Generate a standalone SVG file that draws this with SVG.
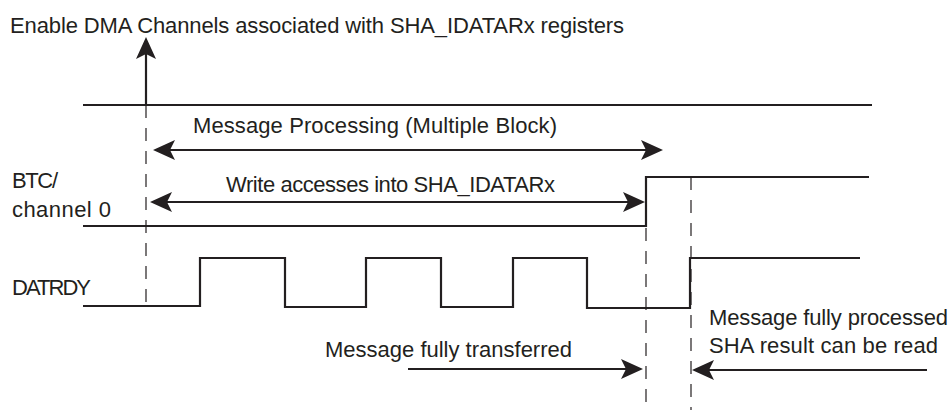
<svg xmlns="http://www.w3.org/2000/svg" width="951" height="413" viewBox="0 0 951 413">
<style>
text{font-family:"Liberation Sans",Arial,sans-serif;font-size:22px;fill:#231f20}
.sig{fill:none;stroke:#231f20;stroke-width:2.2;stroke-linejoin:miter}
.dash{fill:none;stroke:#231f20;stroke-width:1.2;stroke-dasharray:13 10}
.arr{fill:none;stroke:#231f20;stroke-width:2.2}
</style>
<defs>
<marker id="ah" viewBox="-11 -11 24 22" refX="0" refY="0" markerWidth="24" markerHeight="22" orient="auto-start-reverse" markerUnits="userSpaceOnUse">
<path d="M12,0 L-10,-10 L-5,0 L-10,10 Z" fill="#231f20"/>
</marker>
</defs>
<g id="title"><text x="10" y="33" textLength="614" lengthAdjust="spacing">Enable DMA Channels associated with SHA_IDATARx registers</text></g>
<g id="labels">
<text x="12" y="188" textLength="46" lengthAdjust="spacing">BTC/</text>
<text x="12" y="217" textLength="99" lengthAdjust="spacing">channel 0</text>
<text x="12" y="295" textLength="79" lengthAdjust="spacing">DATRDY</text>
</g>
<g id="dma-line"><path class="sig" d="M83,105 H872"/></g>
<g id="btc-signal"><path class="sig" d="M83,226 H646 V177 H869"/></g>
<g id="datrdy-signal"><path class="sig" d="M83,306 H200 V258 H285 V307 H366 V258 H441 V307 H513 V258 H587 V308 H690 V258 H860"/></g>
<g id="guides">
<path class="dash" d="M146,105 V307"/>
<path class="dash" d="M646,228 V410"/>
<path class="dash" d="M691,177 V410"/>
</g>
<g id="connectors">
<path class="arr" d="M146,105 V49" marker-end="url(#ah)"/>
<path class="arr" d="M165,150 H651" marker-start="url(#ah)" marker-end="url(#ah)"/>
<path class="arr" d="M162,202 H633" marker-start="url(#ah)" marker-end="url(#ah)"/>
<path class="arr" d="M408,369 H631" marker-end="url(#ah)"/>
<path class="arr" d="M927,370 H704" marker-end="url(#ah)"/>
</g>
<g id="annotations">
<text x="193" y="133" textLength="364" lengthAdjust="spacing">Message Processing  (Multiple Block)</text>
<text x="226" y="192" textLength="329" lengthAdjust="spacing">Write accesses into SHA_IDATARx</text>
<text x="325" y="357" textLength="247" lengthAdjust="spacing">Message fully transferred</text>
<text x="709" y="325" textLength="239" lengthAdjust="spacing">Message fully processed</text>
<text x="709" y="353" textLength="229" lengthAdjust="spacing">SHA result  can be read</text>
</g>
</svg>
